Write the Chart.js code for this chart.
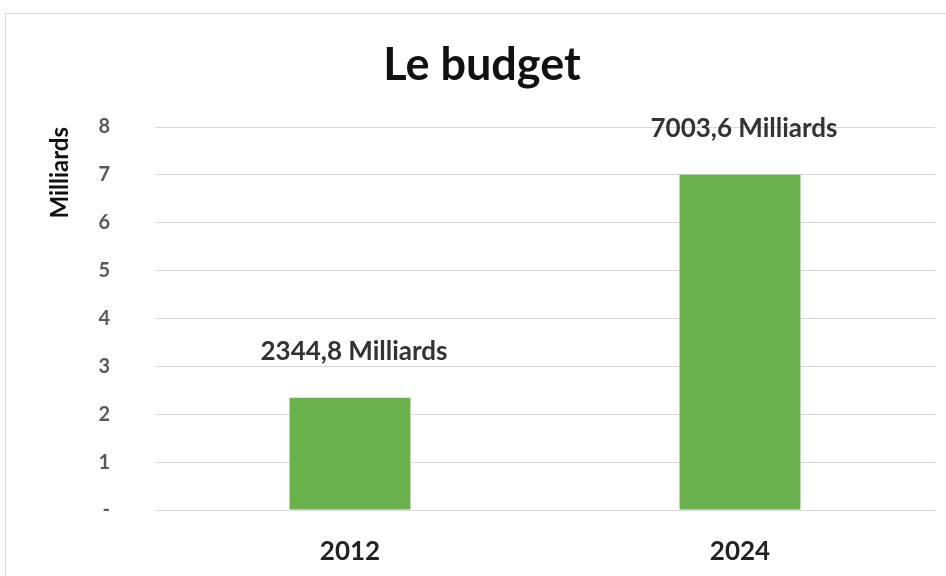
<!DOCTYPE html>
<html>
<head>
<meta charset="utf-8">
<script src="https://cdn.jsdelivr.net/npm/chart.js@4"></script>
<style>
  html, body { margin: 0; padding: 0; background: #fff; }
  #wrap { width: 946px; height: 576px; position: relative; }
</style>
</head>
<body>
<div id="wrap"><canvas id="budgetChart" width="946" height="576"></canvas></div>
<script>
const years = ['2012', '2024'];
const budget = [2.3448, 7.0036];
const budgetLabels = ['2344,8 Milliards', '7003,6 Milliards'];
const yTicks = [0, 1, 2, 3, 4, 5, 6, 7, 8];

const frame = {
  id: 'frame',
  beforeDraw(chart) {
    const ctx = chart.ctx;
    ctx.save();
    ctx.fillStyle = '#fff';
    ctx.fillRect(0, 0, chart.width, chart.height);
    ctx.strokeStyle = '#d9d9d9';
    ctx.lineWidth = 1;
    ctx.strokeRect(5.5, 13.5, chart.width + 10, chart.height + 10);
    ctx.restore();
  },
};

const valueLabels = {
  id: 'valueLabels',
  afterDatasetsDraw(chart) {
    const ctx = chart.ctx;
    const meta = chart.getDatasetMeta(0);
    ctx.save();
    ctx.font = 'bold 26px Lato';
    ctx.fillStyle = '#333';
    ctx.textAlign = 'center';
    ctx.textBaseline = 'middle';
    meta.data.forEach((bar, i) => {
      ctx.fillText(budgetLabels[i], bar.x + 4, bar.y - 46);
    });
    ctx.restore();
  },
};

new Chart(document.getElementById('budgetChart').getContext('2d'), {
  type: 'bar',
  data: {
    labels: years,
    datasets: [
      {
        data: budget,
        backgroundColor: '#6AB04C',
        barPercentage: 0.31,
        categoryPercentage: 1,
      },
    ],
  },
  options: {
    responsive: false,
    animation: false,
    layout: { padding: { left: 29, right: 11, top: 0, bottom: 0 } },
    plugins: {
      legend: { display: false },
      tooltip: { enabled: false },
      title: {
        display: true,
        text: 'Le budget',
        color: '#111',
        font: { family: 'Lato', size: 45, weight: 'bold' },
        padding: { top: 38, bottom: 35 },
      },
    },
    scales: {
      x: {
        afterFit(scale) { scale.height = 66; },
        grid: { display: false },
        border: { display: false },
        ticks: {
          color: '#222',
          padding: 18,
          font: { family: 'Lato', size: 26, weight: 'bold' },
        },
      },
      y: {
        min: 0,
        max: 8,
        afterFit(scale) { scale.width = 126; },
        afterBuildTicks(scale) { scale.ticks = yTicks.map(v => ({ value: v })); },
        grid: { color: '#d9d9d9', drawTicks: false },
        border: { display: false },
        ticks: {
          color: '#595959',
          padding: 45,
          font: { family: 'Lato', size: 20, weight: 'bold' },
          callback: (v) => (v === 0 ? '-' : v),
        },
        title: {
          display: true,
          text: 'Milliards',
          align: 'end',
          color: '#111',
          padding: { top: 17, bottom: 0 },
          font: { family: 'Lato', size: 24, weight: 'bold' },
        },
      },
    },
  },
  plugins: [frame, valueLabels],
});
</script>
</body>
</html>
